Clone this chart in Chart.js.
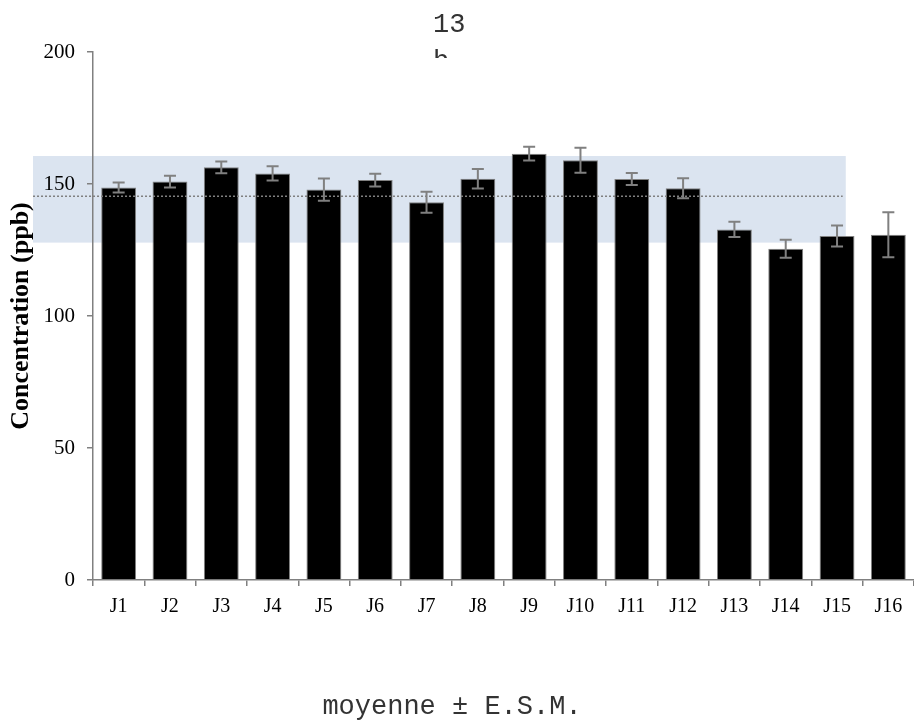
<!DOCTYPE html>
<html>
<head>
<meta charset="utf-8">
<script src="https://cdn.jsdelivr.net/npm/chart.js@4/dist/chart.umd.min.js"></script>
<style>
  html, body { margin: 0; padding: 0; background: #fff; overflow: hidden; }
  #wrap { width: 914px; height: 720px; overflow: hidden; position: relative; }
  canvas { display: block; }
</style>
</head>
<body>
<div id="wrap"><canvas id="c" width="914" height="720"></canvas></div>
<script>
// ---- data ----
const categories = ['J1','J2','J3','J4','J5','J6','J7','J8','J9','J10','J11','J12','J13','J14','J15','J16'];
const means = [148.7, 150.9, 156.3, 154.0, 147.9, 151.5, 143.1, 152.0, 161.5, 159.0, 151.9, 148.4, 132.8, 125.5, 130.3, 130.8];
const sems  = [1.9, 2.2, 2.2, 2.7, 4.2, 2.4, 4.0, 3.7, 2.6, 4.7, 2.3, 3.8, 2.9, 3.4, 4.0, 8.5];
const yTicks = [0, 50, 100, 150, 200];
const bandRange = [127.8, 160.6];
const refMean = [145.4];
const topLines = ['13', 'b'];
const captionText = ['moyenne ± E.S.M.'];
const yTitle = ['Concentration (ppb)'];

const SERIF = '"Liberation Serif", "Times New Roman", serif';
const MONO = '"Liberation Mono", "Courier New", monospace';
const GREY = '#808080';

const overlays = {
  id: 'overlays',
  beforeDraw(chart) {
    const {ctx, scales: {x, y}} = chart;
    const x0 = x.getPixelForValue(-1.669), x1 = x.getPixelForValue(14.17);
    const yTop = y.getPixelForValue(bandRange[1]), yBot = y.getPixelForValue(bandRange[0]);
    ctx.save();
    ctx.fillStyle = '#dbe4f0';
    ctx.fillRect(x0, yTop, x1 - x0, yBot - yTop);
    ctx.restore();
  },
  afterDatasetsDraw(chart) {
    const {ctx, scales: {x, y}} = chart;
    // dotted reference line
    ctx.save();
    ctx.strokeStyle = GREY;
    ctx.lineWidth = 1.5;
    ctx.setLineDash([2, 2]);
    const ym = y.getPixelForValue(refMean[0]);
    ctx.beginPath();
    ctx.moveTo(x.getPixelForValue(-1.669), ym);
    ctx.lineTo(x.getPixelForValue(14.11), ym);
    ctx.stroke();
    ctx.restore();
    // error bars
    const meta = chart.getDatasetMeta(0);
    ctx.save();
    ctx.strokeStyle = GREY;
    ctx.lineWidth = 2;
    meta.data.forEach((bar, i) => {
      const cx = bar.x;
      const yt = y.getPixelForValue(means[i] + sems[i]);
      const yb = y.getPixelForValue(means[i] - sems[i]);
      ctx.beginPath();
      ctx.moveTo(cx, yt); ctx.lineTo(cx, yb);
      ctx.moveTo(cx - 6, yt); ctx.lineTo(cx + 6, yt);
      ctx.moveTo(cx - 6, yb); ctx.lineTo(cx + 6, yb);
      ctx.stroke();
    });
    ctx.restore();
  },
  afterDraw(chart) {
    const {ctx} = chart;
    ctx.save();
    ctx.fillStyle = '#333';
    ctx.font = '27px ' + MONO;
    ctx.textAlign = 'left';
    ctx.textBaseline = 'alphabetic';
    ctx.fillText(topLines[0], 433, 32);
    ctx.beginPath();
    ctx.rect(400, 40, 100, 18);
    ctx.clip();
    ctx.fillText(topLines[1], 433, 69);
    ctx.restore();
    ctx.save();
    ctx.fillStyle = '#333';
    ctx.font = '27px ' + MONO;
    ctx.textAlign = 'center';
    ctx.textBaseline = 'alphabetic';
    ctx.fillText(captionText[0], 452, 714);
    ctx.restore();
  }
};

new Chart(document.getElementById('c'), {
  type: 'bar',
  data: {
    labels: categories,
    datasets: [{
      data: means,
      backgroundColor: '#000',
      borderColor: GREY,
      borderWidth: 1,
      barPercentage: 0.68,
      categoryPercentage: 1.0
    }]
  },
  options: {
    responsive: false,
    animation: false,
    layout: { padding: { top: 52, right: 0, bottom: 100, left: 0 } },
    plugins: { legend: { display: false }, tooltip: { enabled: false }, title: { display: false } },
    scales: {
      x: {
        offset: true,
        grid: { display: true, drawOnChartArea: false, offset: true, tickLength: 6, color: GREY, lineWidth: 1.5 },
        border: { color: GREY, width: 1.5 },
        ticks: { color: '#000', font: { family: SERIF, size: 20 }, padding: 9, maxRotation: 0, autoSkip: false },
        afterFit(s) { s.height = 40; }
      },
      y: {
        min: 0, max: 200,
        afterBuildTicks(s) { s.ticks = yTicks.map(v => ({ value: v })); },
        grid: { drawOnChartArea: false, tickLength: 6, color: GREY, lineWidth: 1.5 },
        border: { color: GREY, width: 1.5 },
        ticks: { color: '#000', font: { family: SERIF, size: 21 }, padding: 12 },
        title: { display: true, text: yTitle[0], color: '#000', font: { family: SERIF, size: 26, weight: 'bold' }, padding: { top: 6, bottom: 0 } },
        afterFit(s) { s.width = 93; }
      }
    }
  },
  plugins: [overlays]
});
</script>
</body>
</html>
